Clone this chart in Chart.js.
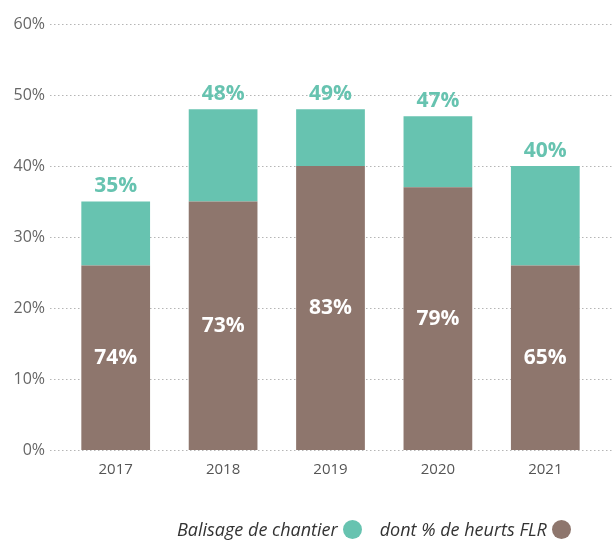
<!DOCTYPE html>
<html>
<head>
<meta charset="utf-8">
<script src="https://cdn.jsdelivr.net/npm/chart.js@4/dist/chart.umd.min.js"></script>
<style>
  body { margin: 0; background: #fff; }
  #wrap { position: relative; width: 612px; height: 540px; }
  #legend {
    position: absolute; left: 177px; top: 517px; height: 24px;
    display: flex; align-items: center;
    font-family: "Open Sans", sans-serif; font-style: italic; font-size: 18px; color: #333;
  }
  .item { display: flex; align-items: center; }
  .dot { width: 19px; height: 19px; border-radius: 50%; margin-left: 5px; }
</style>
</head>
<body>
<div id="wrap">
  <canvas id="chart" width="612" height="540"></canvas>
  <div id="legend"></div>
</div>
<script>
const years = ["2017", "2018", "2019", "2020", "2021"];
const flrValues = [26, 35, 40, 37, 26];          // brown part
const balisageRest = [9, 13, 8, 10, 14];         // teal part stacked on top
const totalLabels = ["35%", "48%", "49%", "47%", "40%"];
const flrLabels = ["74%", "73%", "83%", "79%", "65%"];
const yTicks = [0, 10, 20, 30, 40, 50, 60];

const teal = "#67c3b0";
const brown = "#8e766d";

// dotted grid lines across the whole width
const dottedGrid = {
  id: "dottedGrid",
  beforeDatasetsDraw(chart) {
    const ctx = chart.ctx;
    const y = chart.scales.y;
    ctx.save();
    ctx.strokeStyle = "#b5b5b5";
    ctx.lineWidth = 1;
    ctx.setLineDash([1.5, 2.5]);
    y.ticks.forEach(t => {
      const py = Math.round(y.getPixelForValue(t.value)) + 0.5;
      ctx.beginPath();
      ctx.moveTo(50, py);
      ctx.lineTo(chart.width, py);
      ctx.stroke();
    });
    ctx.restore();
  }
};

const barLabels = {
  id: "barLabels",
  afterDatasetsDraw(chart) {
    const ctx = chart.ctx;
    ctx.save();
    ctx.font = "bold 21px 'Open Sans', sans-serif";
    ctx.textAlign = "center";
    ctx.textBaseline = "middle";
    const inner = chart.getDatasetMeta(0).data;
    const top = chart.getDatasetMeta(1).data;
    inner.forEach((bar, i) => {
      ctx.fillStyle = "#fff";
      ctx.fillText(flrLabels[i], bar.x, (bar.y + bar.base) / 2);
    });
    top.forEach((bar, i) => {
      ctx.fillStyle = teal;
      ctx.fillText(totalLabels[i], bar.x, bar.y - 15);
    });
    ctx.restore();
  }
};

new Chart(document.getElementById("chart"), {
  type: "bar",
  data: {
    labels: years,
    datasets: [
      { label: "dont % de heurts FLR", data: flrValues, backgroundColor: brown },
      { label: "Balisage de chantier", data: balisageRest, backgroundColor: teal }
    ]
  },
  options: {
    responsive: false,
    animation: false,
    layout: { padding: { top: 24, right: 13, left: 0, bottom: 0 } },
    plugins: { legend: { display: false }, tooltip: { enabled: false } },
    datasets: { bar: { barPercentage: 1, categoryPercentage: 0.64 } },
    scales: {
      x: {
        stacked: true,
        grid: { display: false },
        border: { display: false },
        ticks: { color: "#555", padding: 3, font: { family: "Open Sans", size: 15 } },
        afterFit(scale) { scale.height = 90; }
      },
      y: {
        stacked: true,
        min: 0,
        max: 60,
        grid: { display: false },
        border: { display: false },
        afterBuildTicks(scale) { scale.ticks = yTicks.map(v => ({ value: v })); },
        ticks: {
          color: "#666",
          padding: 9,
          font: { family: "Open Sans", size: 16 },
          callback: v => v + "%"
        },
        afterFit(scale) { scale.width = 62; }
      }
    }
  },
  plugins: [dottedGrid, barLabels]
});

// legend: text then dot, teal first
const legend = document.getElementById("legend");
[["Balisage de chantier", teal], ["dont % de heurts FLR", brown]].forEach(([text, color], i) => {
  const item = document.createElement("div");
  item.className = "item";
  if (i > 0) item.style.marginLeft = "18px";
  item.innerHTML = `<span>${text}</span><span class="dot" style="background:${color}"></span>`;
  legend.appendChild(item);
});
</script>
</body>
</html>
